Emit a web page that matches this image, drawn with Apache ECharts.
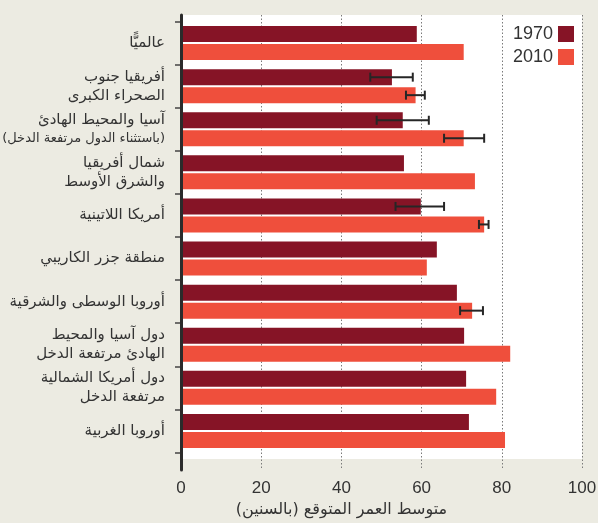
<!DOCTYPE html>
<html>
<head>
<meta charset="utf-8">
<script src="https://cdn.jsdelivr.net/npm/echarts@6/dist/echarts.min.js"></script>
<style>
  html, body { margin: 0; padding: 0; background: #ecebe2; }
  #main { width: 598px; height: 523px; }
</style>
</head>
<body>
<div id="main" dir="rtl"></div>
<script>
// المناطق من الأعلى إلى الأسفل
var regions = [
  'عالميًّا',
  'أفريقيا جنوب\nالصحراء الكبرى',
  'آسيا والمحيط الهادئ\n(باستثناء الدول مرتفعة الدخل)',
  'شمال أفريقيا\nوالشرق الأوسط',
  'أمريكا اللاتينية',
  'منطقة جزر الكاريبي',
  'أوروبا الوسطى والشرقية',
  'دول آسيا والمحيط\nالهادئ مرتفعة الدخل',
  'دول أمريكا الشمالية\nمرتفعة الدخل',
  'أوروبا الغربية'
];
var years = ['1970', '2010'];
var life1970 = [58.8, 52.6, 55.3, 55.6, 59.8, 63.8, 68.8, 70.6, 71.1, 71.8];
var life2010 = [70.5, 58.5, 70.5, 73.3, 75.6, 61.3, 72.6, 82.1, 78.6, 80.8];
// [الحد الأدنى, الحد الأعلى, رقم المنطقة, السلسلة]
var errBars = [
  [47.2, 57.8, 1, 0],
  [56.1, 60.8, 1, 1],
  [48.8, 61.8, 2, 0],
  [65.6, 75.6, 2, 1],
  [53.5, 65.6, 4, 0],
  [74.3, 76.7, 4, 1],
  [69.6, 75.3, 6, 1]
];
var xTicks = { min: 0, max: 100, step: 20 };

var BAR_W = 16, BAR_GAP = 2;
var txt = '#333333';

var myChart = echarts.init(document.getElementById('main'));

function renderErr(params, api) {
  var lo = api.value(0), hi = api.value(1), cat = api.value(2), s = api.value(3);
  var p1 = api.coord([lo, cat]);
  var p2 = api.coord([hi, cat]);
  var off = (s === 0 ? -1 : 1) * (BAR_W + BAR_GAP) / 2;
  var y = p1[1] + off;
  var st = { stroke: '#262626', lineWidth: 2 };
  return {
    type: 'group',
    children: [
      { type: 'line', shape: { x1: p1[0], y1: y, x2: p2[0], y2: y }, style: st },
      { type: 'line', shape: { x1: p1[0], y1: y - 4.5, x2: p1[0], y2: y + 4.5 }, style: st },
      { type: 'line', shape: { x1: p2[0], y1: y - 4.5, x2: p2[0], y2: y + 4.5 }, style: st }
    ]
  };
}

myChart.setOption({
  backgroundColor: '#ecebe2',
  animation: false,
  legend: {
    data: years,
    orient: 'vertical',
    align: 'right',
    right: 19,
    top: 20,
    itemWidth: 16,
    itemHeight: 16,
    itemGap: 5,
    icon: 'rect',
    textStyle: { color: txt, fontSize: 18, fontFamily: 'Liberation Sans' }
  },
  grid: [
    // خطوط الشبكة والمحور
    { left: 181, right: 16, top: 15, bottom: 53, outerBoundsMode: 'none', containLabel: false },
    // الخلفية البيضاء
    { left: 181, right: 16, top: 15, bottom: 64, show: true, backgroundColor: '#ffffff', borderWidth: 0, z: -1, outerBoundsMode: 'none', containLabel: false },
    // الأعمدة
    { left: 181, right: 16, top: 21.5, height: 431, outerBoundsMode: 'none', containLabel: false }
  ],
  xAxis: [
    {
      gridIndex: 0,
      type: 'value',
      min: xTicks.min,
      max: xTicks.max,
      interval: xTicks.step,
      axisLine: { show: false },
      axisTick: { show: false },
      splitLine: { show: true, lineStyle: { color: '#7a7a7a', width: 1, type: [1.5, 2] } },
      axisLabel: { color: txt, fontSize: 17, fontFamily: 'Liberation Sans', margin: 10 },
      name: 'متوسط العمر المتوقع (بالسنين)',
      nameLocation: 'middle',
      nameGap: 30,
      nameTextStyle: { color: txt, fontSize: 16, fontFamily: 'DejaVu Sans', padding: [0, 80, 0, 0] }
    },
    { gridIndex: 1, type: 'value', show: false },
    { gridIndex: 2, type: 'value', min: xTicks.min, max: xTicks.max, show: false }
  ],
  yAxis: [
    {
      gridIndex: 0,
      type: 'value',
      min: 0,
      max: 1,
      z: 5,
      axisLine: { show: true, lineStyle: { color: '#2b2b2b', width: 3 } },
      axisTick: { show: false },
      axisLabel: { show: false },
      splitLine: { show: false }
    },
    { gridIndex: 1, type: 'value', show: false },
    {
      gridIndex: 2,
      type: 'category',
      inverse: true,
      data: regions,
      axisLine: { show: false },
      axisTick: { show: true, length: 6, lineStyle: { color: '#444', width: 1.5 } },
      splitLine: { show: false },
      axisLabel: {
        margin: 16,
        color: txt,
        fontSize: 15,
        lineHeight: 19,
        fontFamily: 'DejaVu Sans',
        formatter: function (v) {
          return v.split('\n').map(function (l) {
            return (l.charAt(0) === '(' ? '{s|' : '{a|') + l + '}';
          }).join('\n');
        },
        rich: {
          a: { fontSize: 15, lineHeight: 19, color: txt, fontFamily: 'DejaVu Sans', align: 'right' },
          s: { fontSize: 13, lineHeight: 19, color: txt, fontFamily: 'DejaVu Sans', align: 'right' }
        }
      }
    }
  ],
  series: [
    {
      name: years[0],
      type: 'bar',
      xAxisIndex: 2,
      yAxisIndex: 2,
      barWidth: BAR_W,
      barGap: (BAR_GAP / BAR_W * 100) + '%',
      itemStyle: { color: '#861426' },
      data: life1970
    },
    {
      name: years[1],
      type: 'bar',
      xAxisIndex: 2,
      yAxisIndex: 2,
      barWidth: BAR_W,
      barGap: (BAR_GAP / BAR_W * 100) + '%',
      itemStyle: { color: '#ef4f3c' },
      data: life2010
    },
    {
      type: 'custom',
      xAxisIndex: 2,
      yAxisIndex: 2,
      z: 4,
      renderItem: renderErr,
      encode: { x: [0, 1], y: 2 },
      data: errBars
    }
  ]
});
</script>
</body>
</html>
